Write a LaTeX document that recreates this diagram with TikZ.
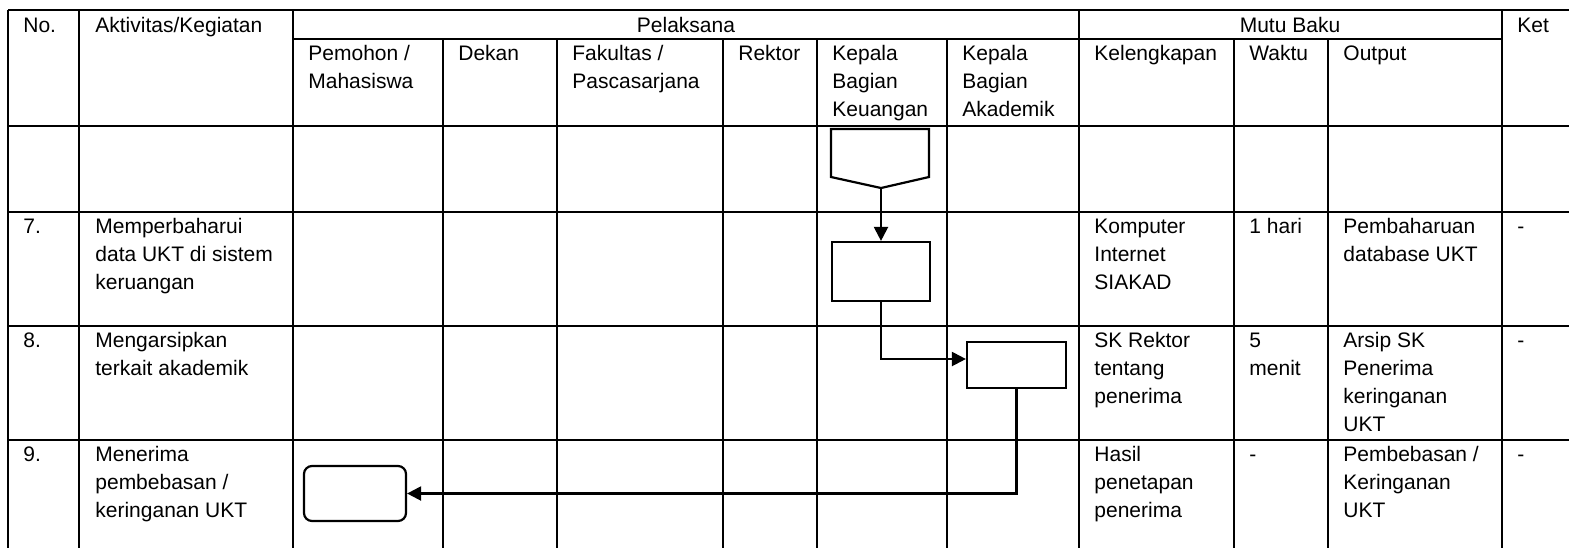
\documentclass[tikz,border=0pt]{standalone}
\usepackage{fontspec}
\setmainfont{Liberation Sans}
\usetikzlibrary{positioning, calc, arrows.meta}

\begin{document}
\begin{tikzpicture}[
    x=0.5pt, y=-0.5pt,
    grid/.style={line width=1.3pt, black},
    cell/.style={anchor=base west, inner sep=0pt, align=left,
                 font=\fontsize{10.5pt}{14pt}\selectfont},
    head/.style={cell, anchor=base},
    proc/.style={rectangle, draw, line width=1.1pt, minimum width=49pt,
                 minimum height=29.5pt, inner sep=0pt},
    term/.style={proc, rounded corners=4pt, minimum width=51pt,
                 minimum height=27.5pt},
    flow/.style={-{Triangle[length=7pt, width=7pt]}, line width=1.1pt},
  ]
    \useasboundingbox (0,0) rectangle (1569,548);

    % table lines
    \draw[grid] (8,10) -- (1569,10);
    \draw[grid] (293,39) -- (1502,39);
    \foreach \y in {126,212,326,440}
      \draw[grid] (8,\y) -- (1569,\y);
    \foreach \x in {8,79,293,1079,1502}
      \draw[grid] (\x,10) -- (\x,548);
    \foreach \x in {443,557,723,817,947,1234,1328}
      \draw[grid] (\x,39) -- (\x,548);

    % header (multi-line cells sit on their last baseline)
    \node[cell] (hno) at (23,32) {No.};
    \node[cell] (hakt) at (95,32) {Aktivitas/Kegiatan};
    \node[head] (hpel) at (686,32) {Pelaksana};
    \node[head] (hmutu) at (1290,32) {Mutu Baku};
    \node[cell] (hket) at (1517,32) {Ket};

    \node[cell] (hmhs) at (308,88) {Pemohon /\\Mahasiswa};
    \node[cell] (hdek) at (458,60) {Dekan};
    \node[cell] (hfak) at (572,88) {Fakultas /\\Pascasarjana};
    \node[cell] (hrek) at (738,60) {Rektor};
    \node[cell] (hkeu) at (832,116) {Kepala\\Bagian\\Keuangan};
    \node[cell] (hakd) at (962,116) {Kepala\\Bagian\\Akademik};
    \node[cell] (hkel) at (1094,60) {Kelengkapan};
    \node[cell] (hwkt) at (1249,60) {Waktu};
    \node[cell] (hout) at (1343,60) {Output};

    % row 7
    \node[cell] (no7) at (23,233) {7.};
    \node[cell] (akt7) at (95,289) {Memperbaharui\\data UKT di sistem\\keruangan};
    \node[cell] (kel7) at (1094,289) {Komputer\\Internet\\SIAKAD};
    \node[cell] (wkt7) at (1249,233) {1 hari};
    \node[cell] (out7) at (1343,261) {Pembaharuan\\database UKT};
    \node[cell] (ket7) at (1517,233) {-};

    % row 8
    \node[cell] (no8) at (23,347) {8.};
    \node[cell] (akt8) at (95,375) {Mengarsipkan\\terkait akademik};
    \node[cell] (kel8) at (1094,403) {SK Rektor\\tentang\\penerima};
    \node[cell] (wkt8) at (1249,375) {5\\menit};
    \node[cell] (out8) at (1343,431) {Arsip SK\\Penerima\\keringanan\\UKT};
    \node[cell] (ket8) at (1517,347) {-};

    % row 9
    \node[cell] (no9) at (23,461) {9.};
    \node[cell] (akt9) at (95,517) {Menerima\\pembebasan /\\keringanan UKT};
    \node[cell] (kel9) at (1094,517) {Hasil\\penetapan\\penerima};
    \node[cell] (wkt9) at (1249,461) {-};
    \node[cell] (out9) at (1343,517) {Pembebasan /\\Keringanan\\UKT};
    \node[cell] (ket9) at (1517,461) {-};

    % flow
    \coordinate (off) at (881,188);
    \draw[line width=1.1pt] (831,129) -- (929,129) -- (929,177) -- (off)
      -- (831,177) -- cycle;
    \node[proc] (upd) at (881,271.5) {};
    \node[proc, minimum width=49.5pt, minimum height=23pt] (arc) at (1016.5,365) {};
    \node[term] (recv) at (355,493.5) {};

    \draw[flow] (off) -- (upd.north);
    \draw[flow] (upd.south) |- ([yshift=3pt]arc.west);
    \draw[flow] (arc.south) |- (recv.east);
  \end{tikzpicture}
\end{document}
